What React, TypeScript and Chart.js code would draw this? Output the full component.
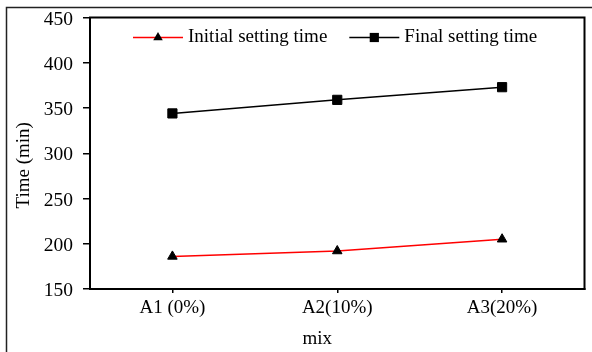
import React, { useEffect, useRef } from "react";
import { Chart, registerables } from "chart.js";

Chart.register(...registerables);

const categories = ["A1 (0%)", "A2(10%)", "A3(20%)"];
const initialSetting = [186, 192, 205];
const finalSetting = [344, 359, 373];
const yMin = 150;
const yMax = 450;
const yStep = 50;
const xTitle = "mix";
const yTitle = "Time (min)";

const FONT = "'Liberation Serif', 'Times New Roman', serif";

const framePlugin = {
  id: "frame",
  afterDraw(chart: any) {
    const { ctx, chartArea: a } = chart;
    ctx.save();
    ctx.strokeStyle = "#000";
    ctx.lineWidth = 2;
    ctx.strokeRect(a.left, a.top, a.right - a.left, a.bottom - a.top);
    ctx.strokeStyle = "#222";
    ctx.lineWidth = 1.5;
    ctx.strokeRect(6.5, 7.5, chart.width + 20, chart.height + 20);
    // axis titles
    ctx.fillStyle = "#000";
    ctx.font = `19px ${FONT}`;
    ctx.textAlign = "center";
    ctx.textBaseline = "middle";
    ctx.fillText(xTitle, (a.left + a.right) / 2 - 20, 339);
    ctx.translate(24, (a.top + a.bottom) / 2 + 12);
    ctx.rotate(-Math.PI / 2);
    ctx.fillText(yTitle, 0, 0);
    ctx.restore();
  },
};

const legendPlugin = {
  id: "insideLegend",
  afterDraw(chart: any) {
    const { ctx, chartArea: a } = chart;
    ctx.save();
    ctx.font = `19px ${FONT}`;
    ctx.textBaseline = "middle";
    ctx.textAlign = "left";
    const y = a.top + 20;
    let x = a.left + 43;
    chart.data.datasets.forEach((ds: any) => {
      const lineLen = 50;
      ctx.strokeStyle = ds.borderColor;
      ctx.lineWidth = ds.borderWidth;
      ctx.beginPath();
      ctx.moveTo(x, y);
      ctx.lineTo(x + lineLen, y);
      ctx.stroke();
      ctx.fillStyle = ds.pointBackgroundColor;
      const cx = x + lineLen / 2;
      if (ds.pointStyle === "triangle") {
        const r = ds.pointRadius;
        ctx.beginPath();
        ctx.moveTo(cx, y - r);
        ctx.lineTo(cx + r * 0.866, y + r * 0.5);
        ctx.lineTo(cx - r * 0.866, y + r * 0.5);
        ctx.closePath();
        ctx.fill();
      } else {
        const s = ds.pointRadius * Math.SQRT1_2;
        ctx.fillRect(cx - s, y - s, 2 * s, 2 * s);
      }
      ctx.fillStyle = "#000";
      ctx.fillText(ds.label, x + lineLen + 5, y);
      const w = ctx.measureText(ds.label).width;
      x = x + lineLen + 5 + w + 22;
    });
    ctx.restore();
  },
};

export default function App() {
  const ref = useRef<HTMLCanvasElement>(null);
  useEffect(() => {
    if (!ref.current) return;
    const chart = new Chart(ref.current, {
      type: "line",
      data: {
        labels: categories,
        datasets: [
          {
            label: "Initial setting time",
            data: initialSetting,
            borderColor: "#ff0000",
            borderWidth: 1.5,
            pointStyle: "triangle",
            pointRadius: 5.5,
            pointBackgroundColor: "#000",
            pointBorderColor: "#000",
            pointBorderWidth: 1,
            tension: 0,
          },
          {
            label: "Final setting time",
            data: finalSetting,
            borderColor: "#000",
            borderWidth: 1.5,
            pointStyle: "rect",
            pointRadius: 6.5,
            pointBackgroundColor: "#000",
            pointBorderColor: "#000",
            pointBorderWidth: 1,
            tension: 0,
          },
        ],
      },
      options: {
        animation: false,
        responsive: false,
        devicePixelRatio: 1,
        layout: { padding: { left: 0, right: 5, top: 17.5, bottom: 0 } },
        plugins: {
          legend: { display: false },
          tooltip: { enabled: false },
        },
        scales: {
          x: {
            type: "category",
            offset: true,
            grid: {
              offset: false,
              drawOnChartArea: false,
              drawTicks: true,
              tickLength: 4,
              color: "#000",
              lineWidth: 1.5,
            },
            border: { display: true, color: "#000", width: 2 },
            ticks: {
              color: "#000",
              font: { family: FONT, size: 19 },
              padding: 4,
              maxRotation: 0,
            },
            title: { display: false, text: xTitle },
            afterFit(scale: any) {
              scale.height = 63;
              scale.paddingLeft = 0;
              scale.paddingRight = 0;
            },
          },
          y: {
            min: yMin,
            max: yMax,
            ticks: {
              stepSize: yStep,
              color: "#000",
              font: { family: FONT, size: 19.5 },
              padding: 10,
              labelOffset: 2,
            },
            grid: {
              drawOnChartArea: false,
              drawTicks: true,
              tickLength: 7,
              color: "#000",
              lineWidth: 1.5,
            },
            border: { display: true, color: "#000", width: 2 },
            title: { display: false, text: yTitle },
            afterFit(scale: any) {
              scale.width = 90;
              scale.paddingTop = 0;
              scale.paddingBottom = 0;
            },
          },
        },
      },
      plugins: [framePlugin, legendPlugin],
    });
    return () => chart.destroy();
  }, []);
  return (
    <div style={{ position: "absolute", left: 0, top: 0, width: 592, height: 352 }}>
      <canvas ref={ref} width={592} height={352} style={{ display: "block" }} />
    </div>
  );
}
